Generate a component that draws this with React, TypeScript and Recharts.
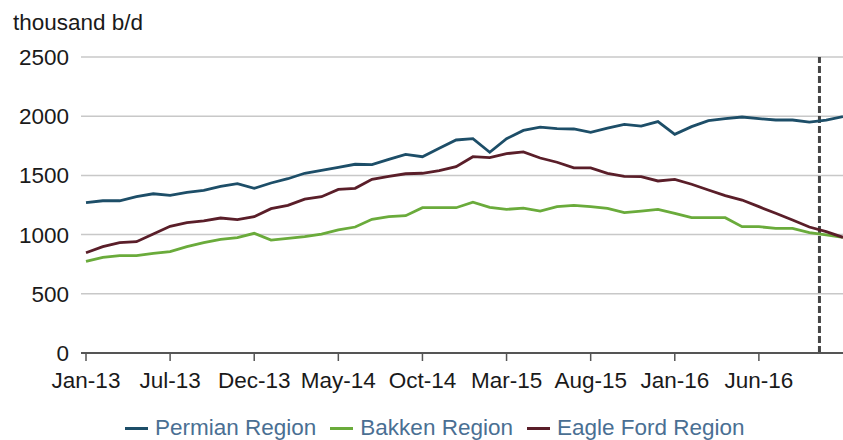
import { CartesianGrid, Legend, Line, LineChart, ReferenceLine, XAxis, YAxis } from "recharts";

// tick labels as printed on the original axis (one every 5 months)
const tickLabels = ["Jan-13", "Jul-13", "Dec-13", "May-14", "Oct-14", "Mar-15", "Aug-15", "Jan-16", "Jun-16"];
const yTicks = [0, 500, 1000, 1500, 2000, 2500];

// thousand b/d, monthly
const permian = [
  1270, 1286, 1286, 1320, 1345, 1332, 1357, 1374, 1408, 1430, 1391, 1436, 1472, 1518, 1543, 1568, 1594, 1591, 1636, 1678,
  1658, 1729, 1799, 1810, 1695, 1810, 1880, 1908, 1895, 1892, 1864, 1900, 1931, 1917, 1954, 1847, 1912, 1962, 1979, 1993,
  1979, 1968, 1968, 1950, 1966, 1996,
];
const bakken = [
  774, 808, 822, 822, 842, 856, 898, 932, 960, 974, 1011, 954, 968, 982, 1005, 1039, 1064, 1129, 1151, 1160, 1227, 1227,
  1227, 1273, 1230, 1213, 1224, 1199, 1236, 1247, 1236, 1222, 1185, 1199, 1213, 1180, 1143, 1143, 1143, 1067, 1067, 1053,
  1053, 1016, 997, 977,
];
const eagleFord = [
  847, 898, 932, 940, 1005, 1070, 1101, 1115, 1140, 1126, 1151, 1219, 1247, 1300, 1320, 1382, 1391, 1467, 1492, 1514, 1518,
  1540, 1574, 1658, 1650, 1684, 1698, 1647, 1611, 1563, 1563, 1518, 1492, 1490, 1453, 1467, 1425, 1377, 1329, 1292, 1236,
  1180, 1123, 1064, 1025, 977,
];

// projection starts here (dashed marker)
const forecastStart = 43.6;

const series = [
  { key: "permian", label: "Permian Region", color: "#1d4e68" },
  { key: "bakken", label: "Bakken Region", color: "#6aab3b" },
  { key: "eagleFord", label: "Eagle Ford Region", color: "#5a1e29" },
];

const data = permian.map((v, i) => ({ i, permian: v, bakken: bakken[i], eagleFord: eagleFord[i] }));

const font = "'Liberation Sans', Arial, sans-serif";
const fontSize = 22.5;

function ChartLegend() {
  return (
    <div
      style={{
        display: "flex",
        alignItems: "center",
        height: 30,
        paddingLeft: 125,
        paddingTop: 6,
        boxSizing: "border-box",
        fontFamily: font,
        fontSize,
        lineHeight: "24px",
        color: "#4a6f93",
      }}
    >
      {series.map((s) => (
        <span key={s.key} style={{ display: "flex", alignItems: "center", marginRight: 14 }}>
          <span style={{ display: "inline-block", width: 23, height: 3, background: s.color, marginRight: 7 }} />
          {s.label}
        </span>
      ))}
    </div>
  );
}

export default function App() {
  return (
    <div style={{ position: "relative", width: 843, height: 440, fontFamily: font }}>
      <style>{"body{margin:0}"}</style>
      <div style={{ position: "absolute", left: 13, top: 12, fontSize, lineHeight: 1, color: "#1a1a1a" }}>thousand b/d</div>
      <LineChart width={843} height={440} data={data} margin={{ top: 57, right: 0, left: 0, bottom: 0 }}>
        <CartesianGrid stroke='#c8c8c8' strokeWidth={1.5} vertical={false} />
        <XAxis
          type='number'
          dataKey='i'
          domain={[0, 45]}
          ticks={[0, 5, 10, 15, 20, 25, 30, 35, 40]}
          tickFormatter={(v: number) => tickLabels[v / 5]}
          padding={{ left: 5, right: 0 }}
          axisLine={{ stroke: "#555", strokeWidth: 2 }}
          tickLine={{ stroke: "#555", strokeWidth: 1.5 }}
          tickSize={8}
          tickMargin={11}
          tick={{ fontSize, fill: "#1a1a1a", fontFamily: font }}
          height={57}
        />
        <YAxis
          domain={[0, 2500]}
          ticks={yTicks}
          axisLine={false}
          tickLine={false}
          tickSize={0}
          tickMargin={12}
          tick={{ fontSize, fill: "#1a1a1a", fontFamily: font }}
          width={81}
        />
        <Legend verticalAlign='bottom' wrapperStyle={{ left: 0, width: 843 }} content={() => <ChartLegend />} />
        <ReferenceLine x={forecastStart} stroke='#444' strokeWidth={3} strokeDasharray='7 3' />
        {["bakken", "eagleFord", "permian"].map((k) => {
          const s = series.find((x) => x.key === k)!;
          return (
            <Line
              key={s.key}
              type='linear'
              dataKey={s.key}
              name={s.label}
              stroke={s.color}
              strokeWidth={2.8}
              dot={false}
              isAnimationActive={false}
            />
          );
        })}
      </LineChart>
    </div>
  );
}
